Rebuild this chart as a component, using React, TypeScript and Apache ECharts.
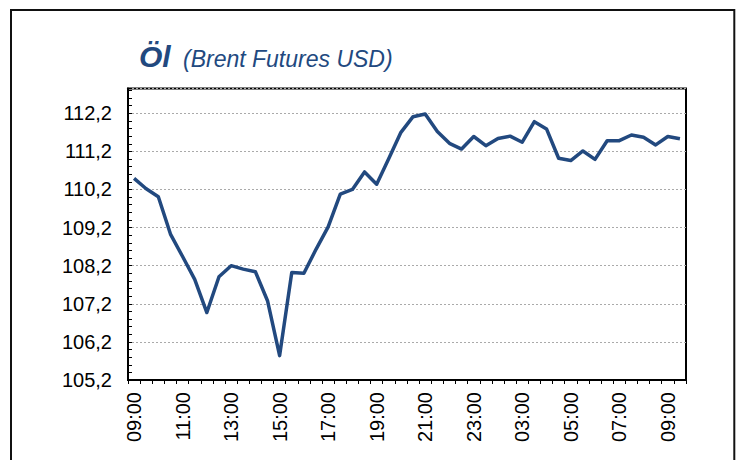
import React, { useEffect, useRef } from "react";
import * as echarts from "echarts";

const categories: string[] = [
  "09:00", "09:30", "10:00", "10:30", "11:00", "11:30", "12:00", "12:30",
  "13:00", "13:30", "14:00", "14:30", "15:00", "15:30", "16:00", "16:30",
  "17:00", "17:30", "18:00", "18:30", "19:00", "19:30", "20:00", "20:30",
  "21:00", "21:30", "22:00", "22:30", "23:00", "23:30", "02:00", "02:30",
  "03:00", "03:30", "04:00", "04:30", "05:00", "05:30", "06:00", "06:30",
  "07:00", "07:30", "08:00", "08:30", "09:00", "09:30",
];

const brentValues: number[] = [
  110.49, 110.22, 110.01, 109.03, 108.44, 107.84, 106.97, 107.91, 108.2, 108.11,
  108.04, 107.28, 105.84, 108.02, 108.0, 108.63, 109.22, 110.08, 110.2, 110.66,
  110.34, 111.01, 111.7, 112.11, 112.18, 111.72, 111.41, 111.26, 111.59, 111.35,
  111.54, 111.6, 111.44, 111.98, 111.79, 111.02, 110.96, 111.21, 110.99, 111.48,
  111.48, 111.63, 111.57, 111.37, 111.59, 111.53,
];

// y axis: first tick label 105,2 and step 1
const axisBase = 105.2;
const axisTop = 112.85;
const axisStep = 1;

const titleMain = "Öl";
const titleSub = "(Brent Futures USD)";

const BLUE = "#22497F";

export default function App() {
  const ref = useRef<HTMLDivElement>(null);

  useEffect(() => {
    if (!ref.current) return;
    const chart = echarts.init(ref.current, undefined, { renderer: "svg" });
    const option: any = {
      animation: false,
      backgroundColor: "#ffffff",
      grid: {
        left: 128,
        top: 88.5,
        right: 59,
        bottom: 80,
        show: true,
        borderColor: "#000000",
        borderWidth: 2,
        backgroundColor: "transparent",
      },
      xAxis: {
        type: "category",
        data: categories,
        boundaryGap: true,
        axisLine: { show: true, lineStyle: { color: "#000", width: 2 } },
        axisTick: {
          show: true,
          interval: 0,
          length: 4,
          inside: false,
          lineStyle: { color: "#000", width: 1 },
        },
        axisLabel: {
          interval: 3,
          rotate: 90,
          margin: 12,
          fontSize: 20,
          fontFamily: "Liberation Sans, Arial, sans-serif",
          color: "#000",
        },
        splitLine: { show: false },
      },
      yAxis: {
        type: "value",
        min: 0,
        max: axisTop - axisBase,
        interval: axisStep,
        axisLine: { show: true, lineStyle: { color: "#000", width: 2 } },
        axisTick: {
          show: true,
          inside: true,
          length: 4,
          lineStyle: { color: "#000", width: 1 },
        },
        minorTick: {
          show: true,
          splitNumber: 5,
          length: 4,
          lineStyle: { color: "#000", width: 1 },
        },
        axisLabel: {
          margin: 16,
          fontSize: 20,
          fontFamily: "Liberation Sans, Arial, sans-serif",
          color: "#000",
          showMaxLabel: false,
          formatter: (v: number) => (v + axisBase).toFixed(1).replace(".", ","),
        },
        splitLine: {
          show: true,
          lineStyle: { color: "#AAAAAA", width: 1, type: [2, 2] },
        },
      },
      series: [
        {
          type: "line",
          data: brentValues.map((v) => v - axisBase),
          showSymbol: false,
          symbol: "none",
          lineStyle: { color: BLUE, width: 3.5, join: "round" },
          z: 3,
        },
      ],
      graphic: [
        {
          type: "rect",
          shape: { x: 11, y: 10, width: 723.3, height: 500 },
          style: { fill: "none", stroke: "#111111", lineWidth: 2 },
          silent: true,
        },
        {
          type: "text",
          x: 139,
          y: 56.5,
          style: {
            text: titleMain,
            fontSize: 30,
            fontWeight: "bold",
            fontStyle: "italic",
            fontFamily: "Liberation Sans, Arial, sans-serif",
            fill: BLUE,
            verticalAlign: "middle",
            align: "left",
          },
        },
        {
          type: "text",
          x: 183,
          y: 59,
          style: {
            text: titleSub,
            fontSize: 23,
            fontStyle: "italic",
            fontFamily: "Liberation Sans, Arial, sans-serif",
            fill: BLUE,
            verticalAlign: "middle",
            align: "left",
          },
        },
      ],
    };
    chart.setOption(option);
    return () => chart.dispose();
  }, []);

  return (
    <div
      ref={ref}
      style={{ position: "fixed", left: 0, top: 0, width: 745, height: 460 }}
    />
  );
}
